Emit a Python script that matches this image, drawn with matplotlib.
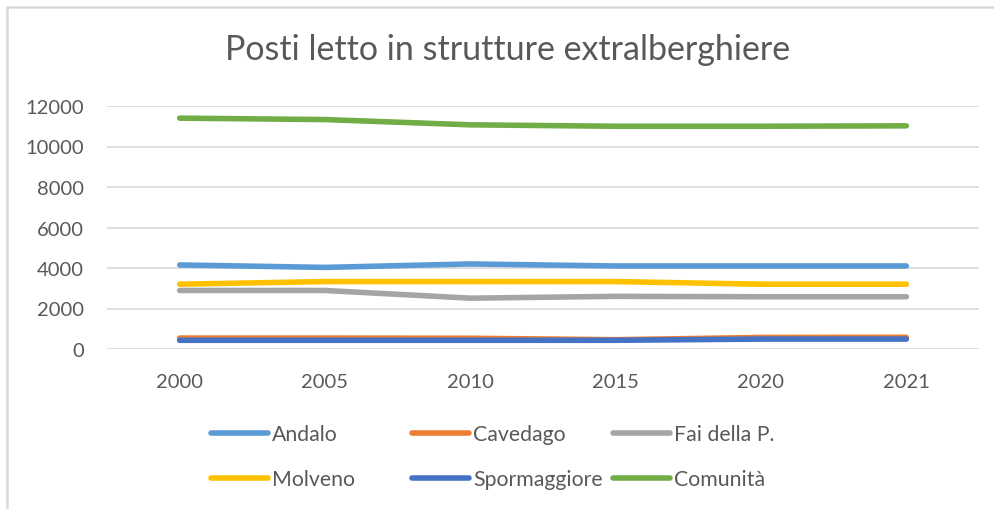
import matplotlib
matplotlib.use("Agg")
import matplotlib.pyplot as plt
from matplotlib.patches import Rectangle

plt.rcParams['font.family'] = ['Lato', 'DejaVu Sans']

years = ["2000", "2005", "2010", "2015", "2020", "2021"]
andalo = [4150, 4030, 4200, 4100, 4100, 4100]
cavedago = [540, 540, 530, 460, 570, 580]
fai = [2890, 2890, 2510, 2600, 2580, 2580]
molveno = [3200, 3330, 3330, 3330, 3200, 3200]
spormaggiore = [430, 430, 430, 430, 490, 490]
comunita = [11400, 11330, 11070, 11000, 11000, 11020]

series = [
    ("Andalo", andalo, "#5B9BD5"),
    ("Cavedago", cavedago, "#ED7D31"),
    ("Fai della P.", fai, "#A5A5A5"),
    ("Molveno", molveno, "#FFC000"),
    ("Spormaggiore", spormaggiore, "#4472C4"),
    ("Comunità", comunita, "#70AD47"),
]

W, H = 994, 510
txt = "#595959"
fig = plt.figure(figsize=(W / 100, H / 100), dpi=100)
ax = fig.add_axes([107 / W, 1 - 350 / H, (979 - 107) / W, (350 - 107) / H])

# chart frame (right and bottom edges fall outside the picture)
fig.patches.append(Rectangle((7 / W, -0.1), 1.1, 1 - 8 / H + 0.1, transform=fig.transFigure,
                             fill=False, edgecolor="#D9D9D9", lw=1.8))

x = range(len(years))
lines = []
for name, vals, col in series:
    ln, = ax.plot(x, vals, color=col, lw=4, solid_capstyle="round", solid_joinstyle="round",
                  label=name, zorder=3)
    lines.append(ln)

ax.set_xlim(-0.5, len(years) - 0.5)
ax.set_ylim(0, 12000)
ax.set_yticks(range(0, 12001, 2000))
ax.set_xticks(list(x))
ax.set_xticklabels(years)
ax.grid(axis="y", color="#D9D9D9", lw=1.2)
ax.set_axisbelow(True)
for s in ax.spines.values():
    s.set_visible(False)
ax.tick_params(length=0, labelsize=14.5, colors=txt)
ax.tick_params(axis="y", pad=16.5)
ax.tick_params(axis="x", pad=17)

fig.text(508 / W, 1 - 50 / H, "Posti letto in strutture extralberghiere", ha="center", va="center",
         fontsize=24.5, color=txt)

# legend entries laid out on the Excel grid
leg_pos = [(211, 435), (412, 435), (613, 435), (211, 480), (412, 480), (613, 480)]
for ln, (px, py) in zip(lines, leg_pos):
    leg = fig.legend(handles=[ln], labels=[ln.get_label()], loc="center left",
                     bbox_to_anchor=(px / W, 1 - py / H), frameon=False, fontsize=15.3,
                     handlelength=2.68, handletextpad=0.19, borderpad=0, borderaxespad=0)
    for t in leg.get_texts():
        t.set_color(txt)
    for h in leg.legend_handles:
        h.set_linewidth(4)

fig.savefig("out.png", dpi=100)
